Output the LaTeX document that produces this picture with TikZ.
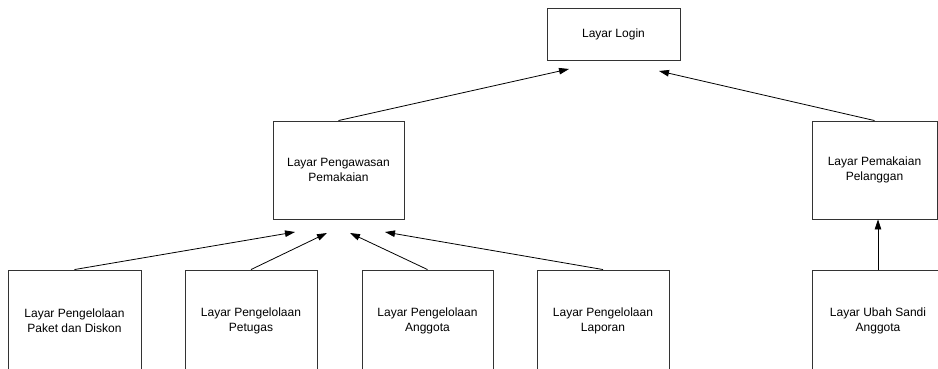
\documentclass[tikz,border=0pt]{standalone}
\usepackage{fontspec}
\setmainfont{Liberation Sans}
\usetikzlibrary{arrows.meta}
\begin{document}
\begin{tikzpicture}[x=1pt,y=-1pt,
  box/.style={draw=black!80,line width=0.9pt,rectangle,inner sep=0pt,align=center,
    font=\fontsize{12pt}{15pt}\selectfont},
  lowbox/.style={box,minimum height=102pt},
  conn/.style={draw=black,line width=0.8pt,-{Triangle[length=10pt,width=6.5pt]}}]
\useasboundingbox (0,0) rectangle (938,369);
\clip (0,0) rectangle (938,369);
\node[box,minimum width=133pt,minimum height=52pt] (login) at (613.5,34) {Layar Login};
\node[box,minimum width=131pt,minimum height=98pt] (awas) at (338.5,170) {Layar Pengawasan\\Pemakaian};
\node[box,minimum width=125pt,minimum height=98pt] (pakai) at (874.5,170) {Layar Pemakaian\\Pelanggan};
\node[lowbox,minimum width=133pt] (p1) at (74.5,321) {Layar Pengelolaan\\Paket dan Diskon};
\node[lowbox,minimum width=132pt] (p2) at (251,321) {Layar Pengelolaan\\Petugas};
\node[lowbox,minimum width=131pt] (p3) at (427.5,321) {Layar Pengelolaan\\Anggota};
\node[lowbox,minimum width=132pt] (p4) at (603,321) {Layar Pengelolaan\\Laporan};
\node[lowbox,minimum width=132pt] (ubah) at (878,321) {Layar Ubah Sandi\\Anggota};
\coordinate (t1) at (569,69);
\coordinate (t2) at (659,71);
\coordinate (a1) at (295,232);
\coordinate (a2) at (327,233);
\coordinate (a3) at (350,233);
\coordinate (a4) at (385,232);
\draw[conn] (awas.north) -- (t1);
\draw[conn] (pakai.north) -- (t2);
\draw[conn] (p1.north) -- (a1);
\draw[conn] (p2.north) -- (a2);
\draw[conn] (p3.north) -- (a3);
\draw[conn] (p4.north) -- (a4);
\draw[conn] (ubah.north) -- (ubah.north |- pakai.south);
\end{tikzpicture}
\end{document}
